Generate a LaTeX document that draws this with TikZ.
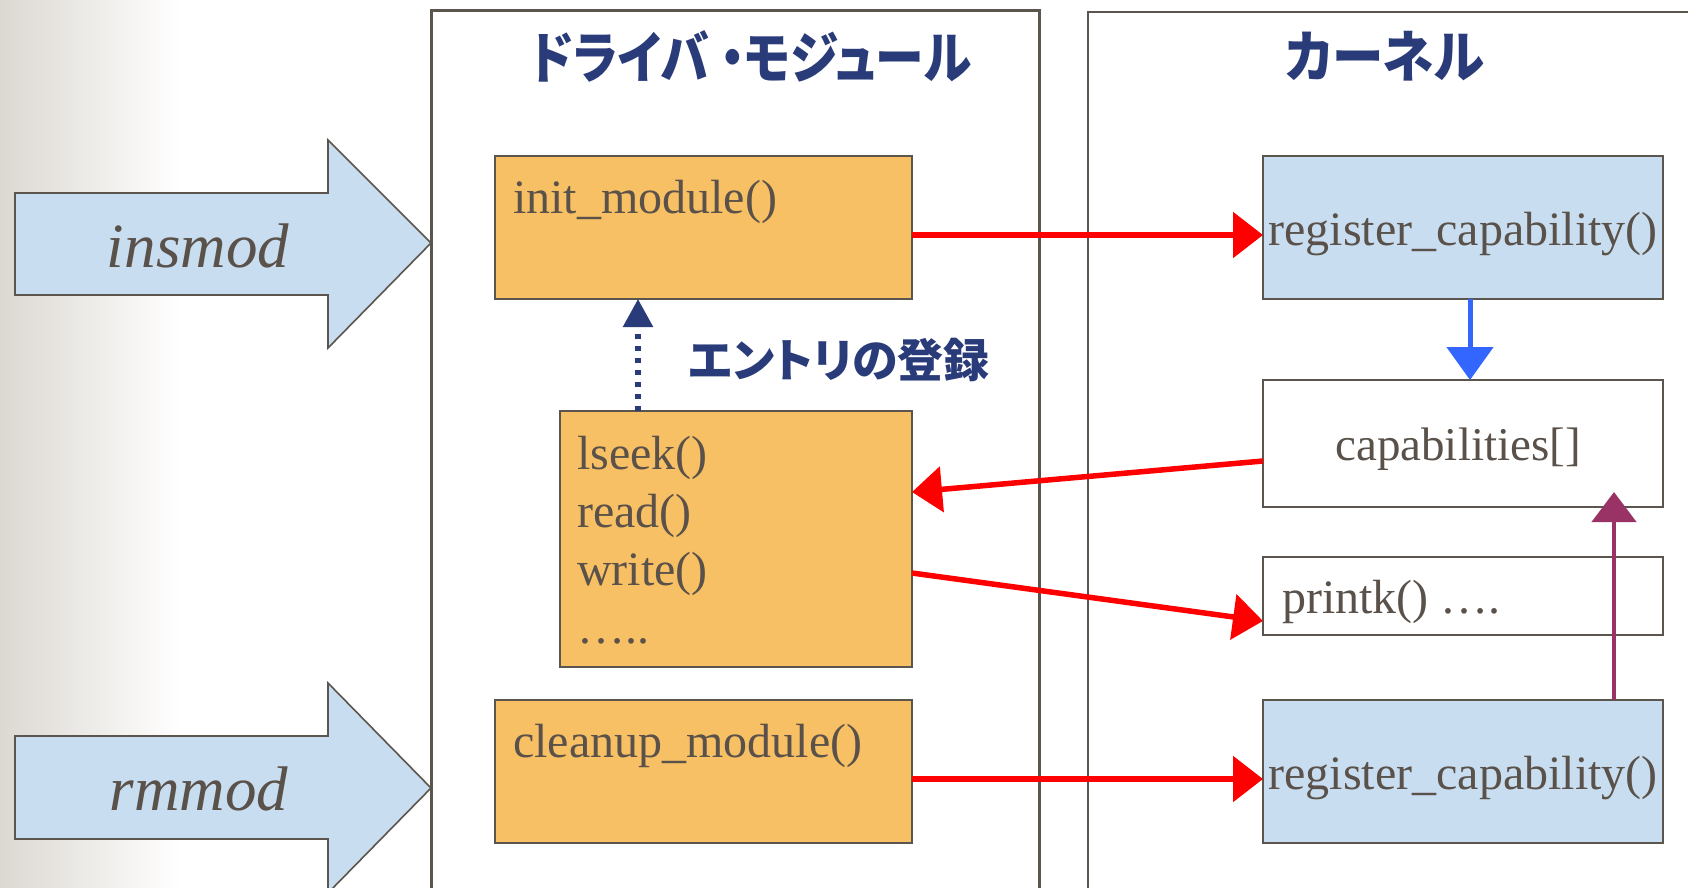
\documentclass[tikz,border=0pt]{standalone}
\usepackage{fontspec}
\setmainfont{Liberation Serif}
\newfontfamily\jp{Noto Sans CJK JP}[RawFeature=+palt]
\usetikzlibrary{arrows.meta}

\definecolor{ink}{RGB}{89,81,74}
\definecolor{edge}{RGB}{92,85,78}
\definecolor{navy}{RGB}{42,59,122}
\definecolor{orangefill}{RGB}{248,192,100}
\definecolor{bluefill}{RGB}{200,221,240}
\definecolor{bggray}{RGB}{220,216,210}
\definecolor{regred}{RGB}{255,0,0}
\definecolor{flowblue}{RGB}{51,102,255}
\definecolor{plum}{RGB}{153,51,102}

\begin{document}
\begin{tikzpicture}[x=1pt,y=-1pt,
  box/.style={draw=edge, line width=2pt, inner sep=0pt, outer sep=0pt,
    anchor=north west, text=ink, font=\fontsize{48}{58}\selectfont},
  orangebox/.style={box, fill=orangefill},
  bluebox/.style={box, fill=bluefill},
  whitebox/.style={box, fill=white},
  panel/.style={draw=edge, anchor=north west, inner sep=0pt, outer sep=0pt},
  code/.style={text=ink, font=\fontsize{48}{58}\selectfont, inner sep=0pt, anchor=base west},
  cmd/.style={text=ink, font=\fontsize{63}{70}\selectfont\itshape, inner sep=0pt, anchor=base},
  heading/.style={text=navy, font=\jp\bfseries\fontsize{56}{60}\selectfont, inner sep=0pt},
  bigarrow/.style={fill=bluefill, draw=edge, line width=1.6pt, line join=miter},
  call/.style={draw=regred, line width=5.5pt, -{Triangle[length=30pt,width=45pt]}},
  flow/.style={draw=flowblue, line width=5pt, -{Triangle[length=33pt,width=46pt]}},
  back/.style={draw=plum, line width=4.5pt, -{Triangle[length=30pt,width=44pt]}},
  entry/.style={draw=navy, line width=5.5pt, dash pattern=on 5.5pt off 6.5pt,
    -{Triangle[length=28pt,width=29pt]}},
]
\useasboundingbox (0,0) rectangle (1688,888);
\clip (0,0) rectangle (1688,888);

% page background with a soft grey edge on the left
\fill[white] (0,0) rectangle (1688,888);
\shade[left color=bggray, right color=white] (0,0) rectangle (180,888);

% the two panels, running off the page at the bottom and right
\node[panel, line width=3pt, minimum width=608pt, minimum height=900pt] (modpanel) at (431,11) {};
\node[panel, line width=1.6pt, minimum width=700pt, minimum height=900pt] (kernpanel) at (1088,12) {};

\node[heading] (modtitle) at (751,56) {\scalebox{0.87}[1]{ドライバ ・モジュール}};
\node[heading] (kerntitle) at (1385,56) {\scalebox{0.92}[1]{カーネル}};

% driver module side
\node[orangebox, minimum width=417pt, minimum height=143pt] (init) at (495,156) {};
\node[code] (initlbl) at (513,213) {init\_module()};

\node[orangebox, minimum width=352pt, minimum height=256pt] (ops) at (560,411) {};
\node[code] (lseek) at (577,469) {lseek()};
\node[code] (readfn) at (577,527) {read()};
\node[code] (writefn) at (577,585) {write()};
\node[code] (more) at (577,643) {…..};

\node[orangebox, minimum width=417pt, minimum height=143pt] (cleanup) at (495,700) {};
\node[code] (cleanuplbl) at (513,757) {cleanup\_module()};

\node[heading, font=\jp\bfseries\fontsize{46}{50}\selectfont] (entrylbl) at (839,360) {エントリの登録};

% kernel side
\node[bluebox, minimum width=400pt, minimum height=143pt] (reg1) at (1263,156) {};
\node[code, anchor=base] (reg1lbl) at ([yshift=-17.5pt]reg1.center) {register\_capability()};
\node[whitebox, minimum width=400pt, minimum height=127pt] (caps) at (1263,380) {};
\node[code, anchor=base, font=\fontsize{47}{56}\selectfont] (capslbl) at ([yshift=-16.5pt,xshift=-5pt]caps.center) {capabilities[]};
\node[whitebox, minimum width=400pt, minimum height=78pt] (printk) at (1263,557) {};
\node[code] (printklbl) at (1282,613) {printk() ….};
\node[bluebox, minimum width=400pt, minimum height=143pt] (reg2) at (1263,700) {};
\node[code, anchor=base] (reg2lbl) at ([yshift=-17.5pt]reg2.center) {register\_capability()};

% insmod / rmmod block arrows
\draw[bigarrow] (15,193) -- (328,193) -- (328,140) -- (431,243) -- (328,348) -- (328,295) -- (15,295) -- cycle;
\node[cmd] (insmod) at (198,267) {insmod};
\draw[bigarrow] (15,736) -- (328,736) -- (328,683) -- (431,788) -- (328,893) -- (328,839) -- (15,839) -- cycle;
\node[cmd] (rmmod) at (199,810) {rmmod};

% connectors
\coordinate (dotx) at (638,0);
\coordinate (flowx) at (1470,0);
\coordinate (backx) at (1614,0);

\draw[entry] (ops.north -| dotx) -- (init.south -| dotx);
\draw[call] ([yshift=-7.5pt]init.east) -- ([yshift=-7.5pt]reg1.west);
\draw[call] ([yshift=-7.5pt]cleanup.east) -- ([yshift=-7.5pt]reg2.west);
\draw[call] ([yshift=-17.5pt]caps.west) -- ([yshift=47pt]ops.east);
\draw[call] ([yshift=-34pt]ops.east) -- ([yshift=-25pt]printk.west);
\draw[flow] (reg1.south -| flowx) -- (caps.north -| flowx);
\draw[back] (reg2.north -| backx) -- ([yshift=15pt]caps.south -| backx);
\end{tikzpicture}
\end{document}
